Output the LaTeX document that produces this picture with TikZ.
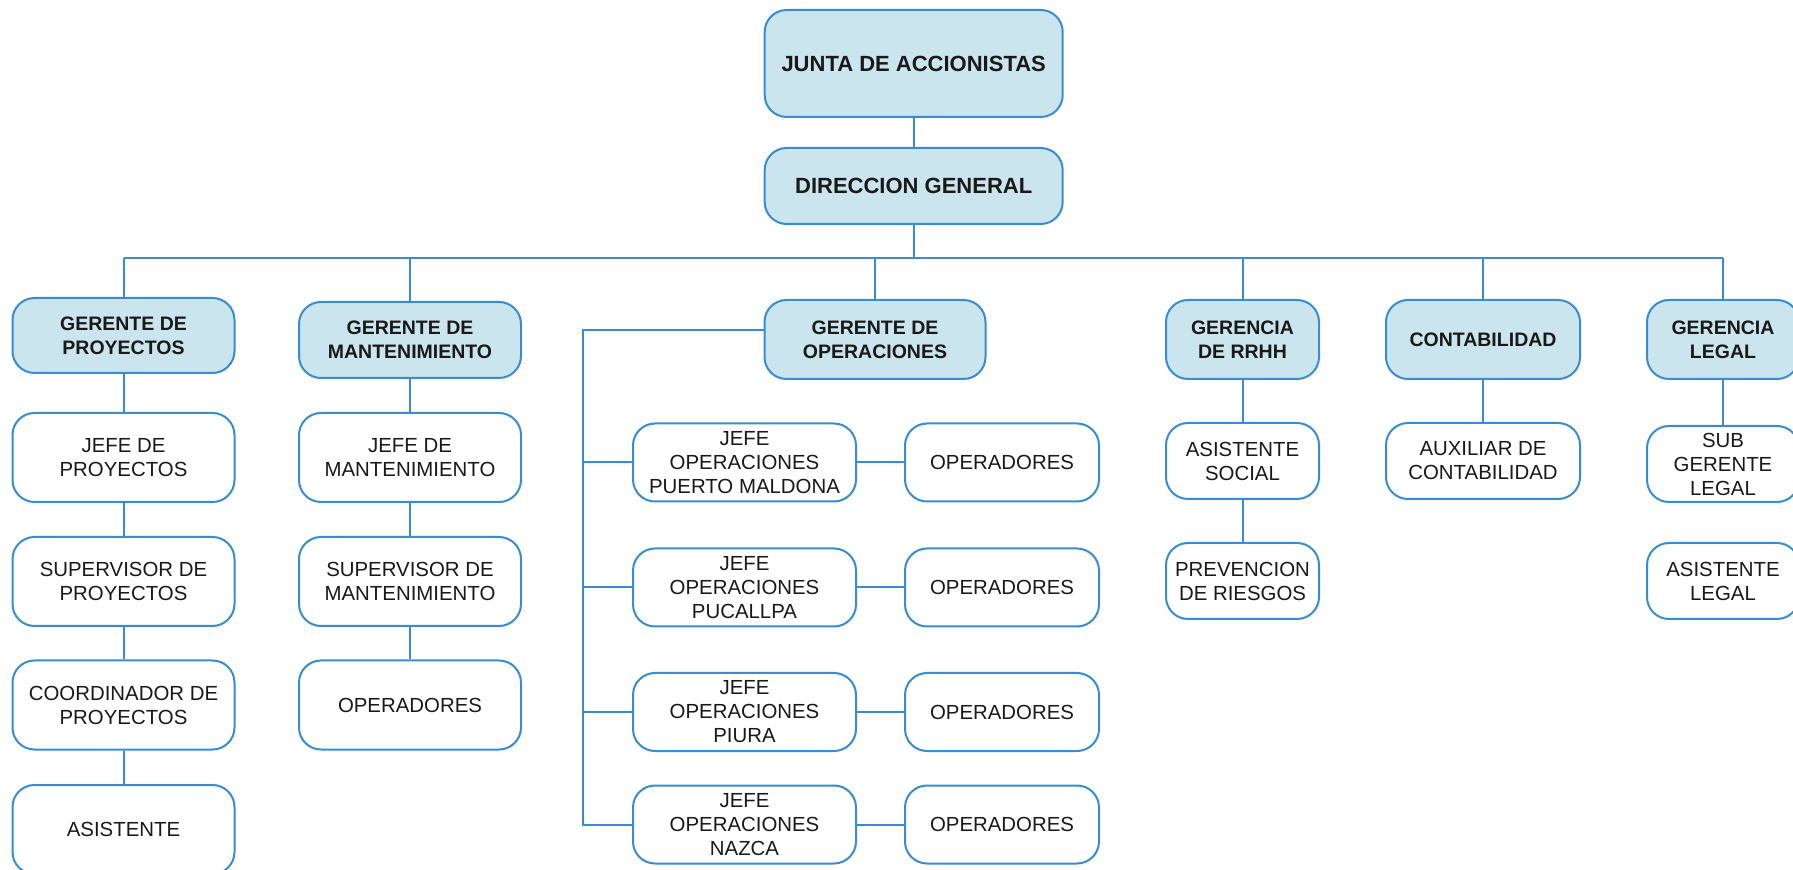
\documentclass[tikz,border=0pt]{standalone}
\usepackage{fontspec}
\setmainfont{Liberation Sans}
\definecolor{orgline}{RGB}{55,140,210}
\definecolor{orgfill}{RGB}{203,229,238}
\definecolor{orgtext}{RGB}{25,25,25}

\begin{document}
\begin{tikzpicture}[x=0.5pt,y=-0.5pt,
  base/.style={draw=orgline, line width=1pt, rounded corners=11pt, inner sep=0pt,
               align=center, text=orgtext},
  hdr/.style={base, fill=orgfill, font=\bfseries\fontsize{9.75pt}{12pt}\selectfont},
  top/.style={hdr, font=\bfseries\fontsize{11pt}{13pt}\selectfont},
  unit/.style={base, fill=white, font=\fontsize{10.2pt}{12pt}\selectfont},
  sz/.style 2 args={minimum width=#1*0.5pt, minimum height=#2*0.5pt},
  link/.style={draw=orgline, line width=1pt}]

\useasboundingbox (0,0) rectangle (1793,870);

% top of the chart
\node[top, sz={298}{107}] (junta) at (913.7,63.5) {JUNTA DE ACCIONISTAS};
\node[top, sz={298}{76}]  (dir)   at (913.7,186)  {DIRECCION GENERAL};

% managers
\node[hdr, sz={222}{75}] (gp)   at (123.5,335.5) {GERENTE DE\\PROYECTOS};
\node[hdr, sz={222}{76}] (gm)   at (410,340)     {GERENTE DE\\MANTENIMIENTO};
\node[hdr, sz={221}{79}] (go)   at (875,339.5)   {GERENTE DE\\OPERACIONES};
\node[hdr, sz={153}{79}] (grh)  at (1242.5,339.5){GERENCIA\\DE RRHH};
\node[hdr, sz={194}{79}] (cont) at (1483,339.5)  {CONTABILIDAD};
\node[hdr, sz={152}{79}] (gl)   at (1723,339.5)  {GERENCIA\\LEGAL};

% projects column
\node[unit, sz={222}{89}] (jp) at (123.5,457.5) {JEFE DE\\PROYECTOS};
\node[unit, sz={222}{89}] (sp) at (123.5,581.5) {SUPERVISOR DE\\PROYECTOS};
\node[unit, sz={222}{89}] (cp) at (123.5,705)   {COORDINADOR DE\\PROYECTOS};
\node[unit, sz={222}{89}] (as) at (123.5,829.5) {ASISTENTE};

% maintenance column
\node[unit, sz={222}{89}] (jm) at (410,457.5) {JEFE DE\\MANTENIMIENTO};
\node[unit, sz={222}{89}] (sm) at (410,581.5) {SUPERVISOR DE\\MANTENIMIENTO};
\node[unit, sz={222}{89}] (om) at (410,705)   {OPERADORES};

% operations branches
\node[unit, sz={223}{78}] (j1) at (744.5,462.5) {JEFE\\OPERACIONES\\PUERTO MALDONA};
\node[unit, sz={223}{78}] (j2) at (744.5,587.5) {JEFE\\OPERACIONES\\PUCALLPA};
\node[unit, sz={223}{78}] (j3) at (744.5,712)   {JEFE\\OPERACIONES\\PIURA};
\node[unit, sz={223}{78}] (j4) at (744.5,824.5) {JEFE\\OPERACIONES\\NAZCA};
\node[unit, sz={194}{78}] (o1) at (1002,462.5) {OPERADORES};
\node[unit, sz={194}{78}] (o2) at (1002,587.5) {OPERADORES};
\node[unit, sz={194}{78}] (o3) at (1002,712)   {OPERADORES};
\node[unit, sz={194}{78}] (o4) at (1002,824.5) {OPERADORES};

% human resources, accounting, legal
\node[unit, sz={153}{76}] (asoc) at (1242.5,461) {ASISTENTE\\SOCIAL};
\node[unit, sz={153}{76}] (prev) at (1242.5,581) {PREVENCION\\DE RIESGOS};
\node[unit, sz={194}{76}] (aux)  at (1483,461)   {AUXILIAR DE\\CONTABILIDAD};
\node[unit, sz={152}{76}] (sgl)  at (1723,464)   {SUB\\GERENTE\\LEGAL};
\node[unit, sz={152}{76}] (al)   at (1723,581)   {ASISTENTE\\LEGAL};

% connectors
\coordinate (bus) at (0,258);
\coordinate (brk) at (583,0);

\draw[link] (junta.south) -- (dir.north);
\draw[link] (dir.south) -- (dir.south |- bus);
\draw[link] (gp.north |- bus) -- (gl.north |- bus);
\foreach \m in {gp,gm,go,grh,cont,gl}
  \draw[link] (\m.north |- bus) -- (\m.north);

\draw[link] (gp) -- (jp);
\draw[link] (jp) -- (sp);
\draw[link] (sp) -- (cp);
\draw[link] (cp) -- (as);

\draw[link] (gm) -- (jm);
\draw[link] (jm) -- (sm);
\draw[link] (sm) -- (om);

\draw[link] ([yshift=4.5pt]go.west) -| (j4.west -| brk) -- (j4.west);
\foreach \j in {j1,j2,j3}
  \draw[link] (\j.west -| brk) -- (\j.west);
\draw[link] (j1) -- (o1);
\draw[link] (j2) -- (o2);
\draw[link] (j3) -- (o3);
\draw[link] (j4) -- (o4);

\draw[link] (grh) -- (asoc);
\draw[link] (asoc) -- (prev);
\draw[link] (cont) -- (aux);
\draw[link] (gl) -- (sgl);
\end{tikzpicture}
\end{document}
